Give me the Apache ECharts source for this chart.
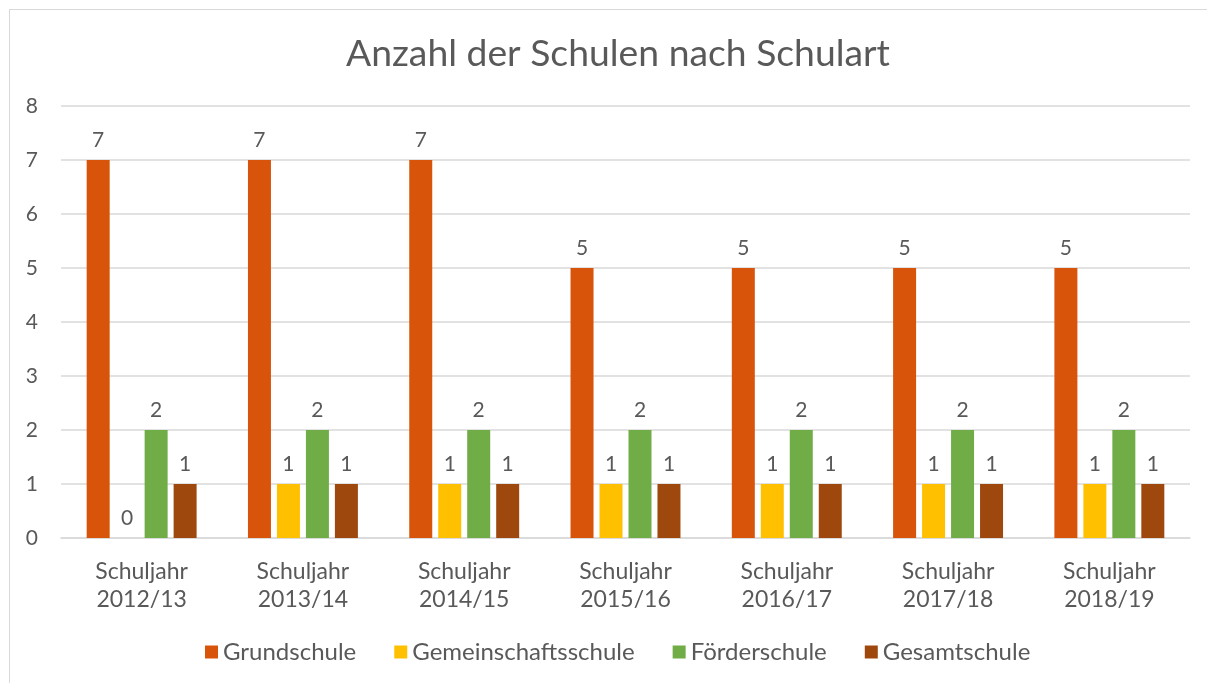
<!DOCTYPE html>
<html>
<head>
<meta charset="utf-8">
<script src="https://cdn.jsdelivr.net/npm/echarts@6/dist/echarts.min.js"></script>
<style>
html,body{margin:0;padding:0;background:#fff;}
#frame{position:absolute;left:9px;top:9px;width:1198px;height:674px;border-left:1px solid #d9d9d9;border-top:1px solid #d9d9d9;box-sizing:border-box;}
#chart{position:absolute;left:0;top:0;width:1207px;height:683px;}
</style>
</head>
<body>
<div id="frame"></div>
<div id="chart"></div>
<script>
const categories = ["Schuljahr\n2012/13","Schuljahr\n2013/14","Schuljahr\n2014/15","Schuljahr\n2015/16","Schuljahr\n2016/17","Schuljahr\n2017/18","Schuljahr\n2018/19"];
const grundschule = [7,7,7,5,5,5,5];
const gemeinschaftsschule = [0,1,1,1,1,1,1];
const foerderschule = [2,2,2,2,2,2,2];
const gesamtschule = [1,1,1,1,1,1,1];
const seriesNames = ["Grundschule","Gemeinschaftsschule","Förderschule","Gesamtschule"];
const colors = ["#D9540B","#FFC000","#70AD47","#9E480E"];
const txt = "#595959";
const font = "Lato, 'Noto Sans', sans-serif";

const chart = echarts.init(document.getElementById('chart'));
const mk = (name, data, color) => ({
  name, type: 'bar', data, barWidth: 23, barGap: '26%',
  itemStyle: {color},
  label: {show: true, position: 'top', distance: 9, color: txt, fontSize: 21, fontFamily: font}
});
chart.setOption({
  animation: false,
  color: colors,
  textStyle: {fontFamily: font},
  title: {text: 'Anzahl der Schulen nach Schulart', left: 341, top: 30,
    textStyle: {fontSize: 37.3, fontWeight: 'normal', color: txt, fontFamily: font}},
  legend: {bottom: 14, left: 200, itemWidth: 13, itemHeight: 13, itemGap: 38,
    icon: 'rect', textStyle: {fontSize: 24, color: txt, fontFamily: font}},
  grid: {left: 61, right: 17, top: 106, bottom: 145, containLabel: false},
  xAxis: {type: 'category', data: categories,
    axisLine: {lineStyle: {color: '#d9d9d9', width: 1.5}}, axisTick: {show: false},
    axisLabel: {color: txt, fontSize: 23, lineHeight: 28, margin: 20, fontFamily: font}},
  yAxis: {type: 'value', min: 0, max: 8, interval: 1,
    axisLine: {show: false}, axisTick: {show: false},
    splitLine: {lineStyle: {color: '#d9d9d9', width: 1.5}},
    axisLabel: {color: txt, fontSize: 21, margin: 23, fontFamily: font}},
  series: [
    mk(seriesNames[0], grundschule, colors[0]),
    mk(seriesNames[1], gemeinschaftsschule, colors[1]),
    mk(seriesNames[2], foerderschule, colors[2]),
    mk(seriesNames[3], gesamtschule, colors[3])
  ]
});
</script>
</body>
</html>
